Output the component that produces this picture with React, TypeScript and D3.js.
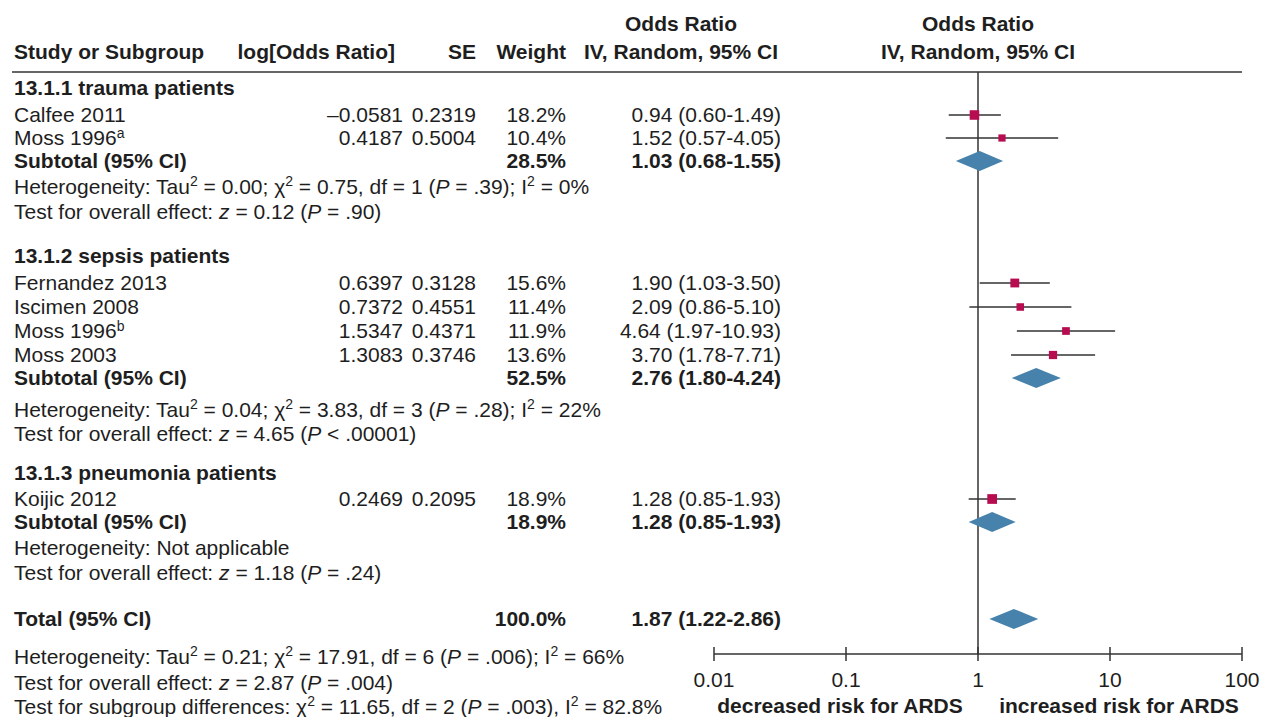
import React from "react";
import * as d3 from "d3";

// ---- data ----
const groupNames = ["13.1.1 trauma patients", "13.1.2 sepsis patients", "13.1.3 pneumonia patients"];

const studyNames = ["Calfee 2011", "Moss 1996", "Fernandez 2013", "Iscimen 2008", "Moss 1996", "Moss 2003", "Koijic 2012"];
const studySup = ["", "a", "", "", "b", "", ""];
const studyGroup = [0, 0, 1, 1, 1, 1, 2];
const studyLogOR = ["–0.0581", "0.4187", "0.6397", "0.7372", "1.5347", "1.3083", "0.2469"];
const studySE = ["0.2319", "0.5004", "0.3128", "0.4551", "0.4371", "0.3746", "0.2095"];
const studyWeight = [18.2, 10.4, 15.6, 11.4, 11.9, 13.6, 18.9];
const studyOR = [0.94, 1.52, 1.9, 2.09, 4.64, 3.7, 1.28];
const studyLo = [0.6, 0.57, 1.03, 0.86, 1.97, 1.78, 0.85];
const studyHi = [1.49, 4.05, 3.5, 5.1, 10.93, 7.71, 1.93];
const studyORText = ["0.94 (0.60-1.49)", "1.52 (0.57-4.05)", "1.90 (1.03-3.50)", "2.09 (0.86-5.10)", "4.64 (1.97-10.93)", "3.70 (1.78-7.71)", "1.28 (0.85-1.93)"];

const subWeight = ["28.5%", "52.5%", "18.9%"];
const subOR = [1.03, 2.76, 1.28];
const subLo = [0.68, 1.8, 0.85];
const subHi = [1.55, 4.24, 1.93];
const subORText = ["1.03 (0.68-1.55)", "2.76 (1.80-4.24)", "1.28 (0.85-1.93)"];

const totalWeight = "100.0%";
const totalOR = 1.87;
const totalLo = 1.22;
const totalHi = 2.86;
const totalORText = "1.87 (1.22-2.86)";

const axisTicks = [0.01, 0.1, 1, 10, 100];
const axisTickLabels = ["0.01", "0.1", "1", "10", "100"];

const groupHet = [
  { tau: "0.00", chi: "0.75", df: "1", p: ".39", i2: "0%" },
  { tau: "0.04", chi: "3.83", df: "3", p: ".28", i2: "22%" },
  null,
];
const groupTest = [
  { z: "0.12", p: "= .90" },
  { z: "4.65", p: "< .00001" },
  { z: "1.18", p: "= .24" },
];
const totalHet = { tau: "0.21", chi: "17.91", df: "6", p: ".006", i2: "66%" };
const totalTest = { z: "2.87", p: "= .004" };

// ---- layout ----
const FONT = "'Liberation Sans', Arial, Helvetica, sans-serif";
const FS = 21;
const BL = 7; // baseline offset from row center
const COL_NAME = 14;
const COL_LOG = 403;
const COL_SE = 476;
const COL_W = 566;
const COL_OR = 781;

const SQ = "#B70D50";
const DIA = "#4682AB";
const INK = "#1e1e1e";
const LINE = "#333";

const groupY = [
  { head: 88, studies: [115, 138], sub: 161, het: 187, test: 212 },
  { head: 256, studies: [283, 307, 331, 355], sub: 378, het: 410, test: 434 },
  { head: 473, studies: [499], sub: 522, het: 548, test: 573 },
];
const totalY = 619;
const footY = [657, 683, 707];

const x = d3.scaleLog().domain([0.01, 100]).range([714, 1242]);
const sizeScale = d3.scaleSqrt().domain([0, 20]).range([0, 10]);

const Sup = ({ children }: { children: React.ReactNode }) => (
  <tspan fontSize={14} dy={-8}>{children}</tspan>
);
const Down = ({ children }: { children: React.ReactNode }) => (
  <tspan dy={8}>{children}</tspan>
);

function HetText({ y, h }: { y: number; h: { tau: string; chi: string; df: string; p: string; i2: string } }) {
  return (
    <text x={COL_NAME} y={y + BL} fontSize={FS} fill={INK}>
      Heterogeneity: Tau<Sup>2</Sup>
      <Down>{` = ${h.tau}; χ`}</Down>
      <Sup>2</Sup>
      <Down>{` = ${h.chi}, df = ${h.df} (`}</Down>
      <tspan fontStyle="italic">P</tspan>
      {` = ${h.p}); I`}
      <Sup>2</Sup>
      <Down>{` = ${h.i2}`}</Down>
    </text>
  );
}

function TestText({ y, t }: { y: number; t: { z: string; p: string } }) {
  return (
    <text x={COL_NAME} y={y + BL} fontSize={FS} fill={INK}>
      Test for overall effect: <tspan fontStyle="italic">z</tspan>
      {` = ${t.z} (`}
      <tspan fontStyle="italic">P</tspan>
      {` ${t.p})`}
    </text>
  );
}

function Diamond({ y, est, lo, hi }: { y: number; est: number; lo: number; hi: number }) {
  const h = 10;
  const pts = [
    [x(lo), y],
    [x(est), y - h],
    [x(hi), y],
    [x(est), y + h],
  ];
  return <polygon points={pts.map((p) => p.join(",")).join(" ")} fill={DIA} />;
}

export default function App() {
  const axisY = 654;
  return (
    <svg width={1262} height={717} style={{ position: "absolute", left: 0, top: 0, background: "#fff" }} fontFamily={FONT}>
      {/* headers */}
      <g fontWeight="bold" fontSize={FS} fill={INK}>
        <text x={COL_NAME} y={59}>Study or Subgroup</text>
        <text x={395} y={59} textAnchor="end">log[Odds Ratio]</text>
        <text x={COL_SE} y={59} textAnchor="end">SE</text>
        <text x={COL_W} y={59} textAnchor="end">Weight</text>
        <text x={681} y={31} textAnchor="middle">Odds Ratio</text>
        <text x={681} y={59} textAnchor="middle">IV, Random, 95% CI</text>
        <text x={978} y={31} textAnchor="middle">Odds Ratio</text>
        <text x={978} y={59} textAnchor="middle">IV, Random, 95% CI</text>
      </g>
      <line x1={12} x2={1242} y1={72} y2={72} stroke={LINE} strokeWidth={1.5} />

      {/* reference line */}
      <line x1={x(1)} x2={x(1)} y1={72} y2={axisY} stroke={LINE} strokeWidth={1.5} />

      {groupNames.map((g, gi) => {
        const gy = groupY[gi];
        const idx = studyGroup.map((s, i) => (s === gi ? i : -1)).filter((i) => i >= 0);
        return (
          <g key={g}>
            <text x={COL_NAME} y={gy.head + BL} fontSize={FS} fontWeight="bold" fill={INK}>{g}</text>
            {idx.map((si, k) => {
              const y = gy.studies[k];
              const s = sizeScale(studyWeight[si]);
              return (
                <g key={si}>
                  <text x={COL_NAME} y={y + BL} fontSize={FS} fill={INK}>
                    {studyNames[si]}
                    {studySup[si] && <tspan fontSize={14} dy={-7}>{studySup[si]}</tspan>}
                  </text>
                  <text x={COL_LOG} y={y + BL} fontSize={FS} fill={INK} textAnchor="end">{studyLogOR[si]}</text>
                  <text x={COL_SE} y={y + BL} fontSize={FS} fill={INK} textAnchor="end">{studySE[si]}</text>
                  <text x={COL_W} y={y + BL} fontSize={FS} fill={INK} textAnchor="end">{studyWeight[si].toFixed(1)}%</text>
                  <text x={COL_OR} y={y + BL} fontSize={FS} fill={INK} textAnchor="end">{studyORText[si]}</text>
                  <line x1={x(studyLo[si])} x2={x(studyHi[si])} y1={y} y2={y} stroke={LINE} strokeWidth={1.5} />
                  <rect x={x(studyOR[si]) - s / 2} y={y - s / 2} width={s} height={s} fill={SQ} />
                </g>
              );
            })}
            <g fontWeight="bold" fontSize={FS} fill={INK}>
              <text x={COL_NAME} y={gy.sub + BL}>Subtotal (95% CI)</text>
              <text x={COL_W} y={gy.sub + BL} textAnchor="end">{subWeight[gi]}</text>
              <text x={COL_OR} y={gy.sub + BL} textAnchor="end">{subORText[gi]}</text>
            </g>
            <Diamond y={gy.sub} est={subOR[gi]} lo={subLo[gi]} hi={subHi[gi]} />
            {groupHet[gi] ? (
              <HetText y={gy.het} h={groupHet[gi]!} />
            ) : (
              <text x={COL_NAME} y={gy.het + BL} fontSize={FS} fill={INK}>Heterogeneity: Not applicable</text>
            )}
            <TestText y={gy.test} t={groupTest[gi]} />
          </g>
        );
      })}

      {/* total */}
      <g fontWeight="bold" fontSize={FS} fill={INK}>
        <text x={COL_NAME} y={totalY + BL}>Total (95% CI)</text>
        <text x={COL_W} y={totalY + BL} textAnchor="end">{totalWeight}</text>
        <text x={COL_OR} y={totalY + BL} textAnchor="end">{totalORText}</text>
      </g>
      <Diamond y={totalY} est={totalOR} lo={totalLo} hi={totalHi} />

      <HetText y={footY[0]} h={totalHet} />
      <TestText y={footY[1]} t={totalTest} />
      <text x={COL_NAME} y={footY[2] + BL} fontSize={FS} fill={INK}>
        Test for subgroup differences: χ<Sup>2</Sup>
        <Down>{" = 11.65, df = 2 ("}</Down>
        <tspan fontStyle="italic">P</tspan>
        {" = .003), I"}
        <Sup>2</Sup>
        <Down>{" = 82.8%"}</Down>
      </text>

      {/* axis */}
      <line x1={x(0.01)} x2={x(100)} y1={axisY} y2={axisY} stroke={LINE} strokeWidth={1.5} />
      {axisTicks.map((t, i) => (
        <g key={t}>
          <line x1={x(t)} x2={x(t)} y1={axisY - 7} y2={axisY + 7} stroke={LINE} strokeWidth={1.5} />
          <text x={x(t)} y={axisY + 33} fontSize={FS} fill={INK} textAnchor="middle">{axisTickLabels[i]}</text>
        </g>
      ))}
      <g fontWeight="bold" fontSize={FS} fill={INK}>
        <text x={840} y={713} textAnchor="middle">decreased risk for ARDS</text>
        <text x={1119} y={713} textAnchor="middle">increased risk for ARDS</text>
      </g>
    </svg>
  );
}
